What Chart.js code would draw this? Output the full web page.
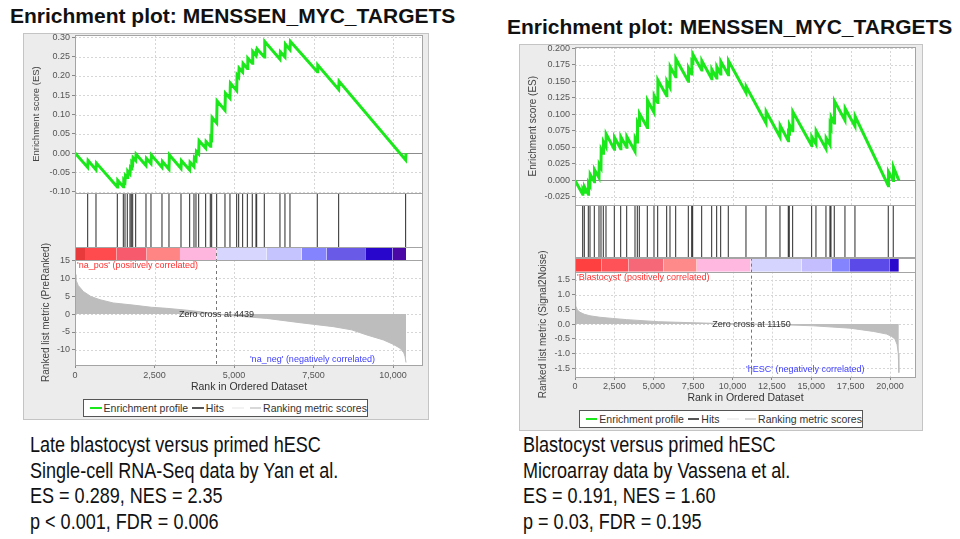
<!DOCTYPE html>
<html>
<head>
<meta charset="utf-8">
<script src="https://cdn.jsdelivr.net/npm/chart.js@4.4.1/dist/chart.umd.min.js"></script>
<style>
  body { margin: 0; background: #fff; width: 960px; height: 539px; position: relative; overflow: hidden;
         font-family: "Liberation Sans", Arial, sans-serif; }
  .title { position: absolute; font-weight: bold; font-size: 21px; color: #111; white-space: nowrap; line-height: 24px; }
  .panel { position: absolute; background: #ececec; border: 1px solid #c4c4c4; box-sizing: border-box; }
  canvas { position: absolute; }
  .legend { position: absolute; background: #fff; border: 1px solid #555; box-sizing: border-box;
            font-size: 10.5px; color: #333; white-space: nowrap; display: flex; align-items: center; padding-left: 2px; }
  .legend .sw { display: inline-block; width: 14px; height: 2px; margin: 0 2px 0 4px; }
  .note { position: absolute; font-size: 22px; line-height: 25.6px; color: #111; white-space: nowrap;
          transform: scaleX(0.82); transform-origin: left top; }
</style>
</head>
<body>
<div class="title" style="left:10px; top:4px;">Enrichment plot: MENSSEN_MYC_TARGETS</div>
<div class="title" style="left:507px; top:15px;">Enrichment plot: MENSSEN_MYC_TARGETS</div>

<div class="panel" style="left:23px; top:33px; width:406px; height:387px;"></div>
<div class="panel" style="left:519px; top:44px; width:404px; height:387px;"></div>

<canvas id="yanPlot" width="406" height="362" style="left:23px; top:33px;"></canvas>
<canvas id="vassenaPlot" width="404" height="363" style="left:519px; top:44px;"></canvas>

<div class="legend" style="left:83px; top:399px; width:285px; height:18px;">
  <span class="sw" style="background:#1ae81a"></span>Enrichment profile
  <span class="sw" style="background:#555"></span>Hits
  <span class="sw" style="background:#f2f2f2; margin-left:8px"></span>
  <span class="sw" style="background:#d8d8d8"></span>Ranking metric scores
</div>
<div class="legend" style="left:579px; top:410px; width:284px; height:18px;">
  <span class="sw" style="background:#1ae81a"></span>Enrichment profile
  <span class="sw" style="background:#555"></span>Hits
  <span class="sw" style="background:#f2f2f2; margin-left:8px"></span>
  <span class="sw" style="background:#d8d8d8"></span>Ranking metric scores
</div>

<div class="note" style="left:30px; top:432px;">
  Late blastocyst versus primed hESC<br>
  Single-cell RNA-Seq data by Yan et al.<br>
  ES = 0.289, NES = 2.35<br>
  p &lt; 0.001, FDR = 0.006
</div>
<div class="note" style="left:523px; top:432px;">
  Blastocyst versus primed hESC<br>
  Microarray data by Vassena et al.<br>
  ES = 0.191, NES = 1.60<br>
  p = 0.03, FDR = 0.195
</div>

<script>
Chart.defaults.font.family = "'Liberation Sans', Arial, sans-serif";
Chart.defaults.color = "#555";

// ---- Yan et al. (left) ----
const yanHits = [398, 660, 1331, 1520, 1572, 1645, 1729, 1771, 1813, 1907, 2232, 2389, 2735, 2955,
  3333, 3605, 3741, 3804, 3888, 4108, 4255, 4297, 4454, 4716, 4873, 5083, 5146, 5271, 5420, 5575,
  5691, 5712, 5953, 6445, 6602, 6760, 7619, 8290, 10396];
const yanES = [[0, 0.000],
  [398, -0.037], [412, -0.019], [660, -0.043], [674, -0.026], [1331, -0.088], [1345, -0.071],
  [1520, -0.087], [1534, -0.070], [1572, -0.074], [1586, -0.058], [1645, -0.063], [1659, -0.047],
  [1729, -0.054], [1743, -0.038], [1771, -0.041], [1785, -0.025], [1813, -0.028], [1827, -0.012],
  [1907, -0.019], [1921, -0.003], [2232, -0.032], [2246, -0.014], [2389, -0.027], [2403, -0.005],
  [2735, -0.037], [2749, -0.022], [2955, -0.042], [2969, -0.005], [3333, -0.040], [3347, -0.020],
  [3605, -0.044], [3619, -0.024], [3741, -0.035], [3755, -0.013], [3804, -0.018], [3818, 0.004],
  [3888, -0.002], [3902, 0.032], [4108, 0.013], [4122, 0.030], [4255, 0.018], [4269, 0.040],
  [4297, 0.037], [4311, 0.092], [4454, 0.078], [4468, 0.135], [4716, 0.111], [4730, 0.155],
  [4873, 0.142], [4887, 0.181], [5083, 0.162], [5097, 0.202], [5146, 0.197], [5160, 0.220],
  [5271, 0.210], [5285, 0.232], [5420, 0.219], [5434, 0.246], [5575, 0.233], [5589, 0.263],
  [5691, 0.253], [5700, 0.262], [5712, 0.261], [5726, 0.270], [5953, 0.249], [5967, 0.289],
  [6445, 0.243], [6459, 0.262], [6602, 0.249], [6616, 0.282], [6760, 0.268], [6774, 0.289],
  [7619, 0.211], [7633, 0.228], [8290, 0.165], [8304, 0.186], [10396, -0.018], [10409, 0.000]];
const yanMetric = [[0, 11.0], [30, 9.5], [100, 8.0], [262, 6.3], [500, 4.9], [786, 4.0], [1200, 3.1],
  [1834, 2.5], [2400, 1.9], [2883, 1.6], [3500, 1.1], [3931, 0.65], [4439, 0], [5000, -0.5],
  [6027, -1.2], [7075, -2.4], [8124, -3.5], [8700, -4.4], [9172, -5.8], [9696, -7.2],
  [10000, -8.4], [10220, -9.5], [10340, -10.8], [10377, -11.8], [10409, -13.5]];
const yanBandEdges = [0, 314, 1310, 2253, 3301, 4454, 6026, 7126, 7912, 9149, 9987, 10409];
const yanBandColors = ["#e8393b", "#ff4a4e", "#f65a6c", "#ff8484", "#ffb6de", "#d6d6ff",
  "#c6c4ff", "#8484ff", "#6a5ae8", "#2806cc", "#4a08a6"];
const yanZeroCross = 4439;
const yanRankTicks = [0, 2500, 5000, 7500, 10000];
const yanEsTicks = [-0.10, -0.05, 0.00, 0.05, 0.10, 0.15, 0.20, 0.25, 0.30];
const yanMetricTicks = [-10, -5, 0, 5, 10, 15];

// ---- Vassena et al. (right) ----
const vasHits = [487, 592, 846, 952, 1227, 1523, 1650, 1798, 1967, 2497, 2899, 3280, 3809, 3957,
  4084, 4592, 5015, 5248, 5819, 6031, 6391, 7195, 7407, 7470, 8041, 8676, 8993, 9247, 9733,
  10855, 12125, 13013, 13542, 13605, 13817, 15023, 15298, 15933, 16187, 16251, 16462, 17139,
  17774, 19890, 20207];
const vasES = [[0, 0.000],
  [487, -0.021], [500, -0.014], [592, -0.018], [605, -0.010], [846, -0.021], [860, -0.004],
  [952, -0.008], [965, 0.009], [1227, -0.002], [1240, 0.016], [1523, 0.004], [1536, 0.024],
  [1650, 0.019], [1663, 0.047], [1798, 0.041], [1811, 0.058], [1967, 0.051], [1980, 0.070],
  [2497, 0.047], [2510, 0.065], [2899, 0.048], [2912, 0.066], [3280, 0.050], [3293, 0.066],
  [3809, 0.044], [3822, 0.064], [3957, 0.058], [3970, 0.088], [4084, 0.083], [4097, 0.101],
  [4592, 0.080], [4605, 0.121], [5015, 0.103], [5028, 0.128], [5248, 0.118], [5261, 0.152],
  [5819, 0.128], [5832, 0.150], [6031, 0.141], [6044, 0.172], [6391, 0.157], [6404, 0.184],
  [7195, 0.150], [7208, 0.170], [7407, 0.161], [7420, 0.179], [7470, 0.177], [7483, 0.191],
  [8041, 0.167], [8054, 0.181], [8676, 0.154], [8689, 0.168], [8993, 0.155], [9006, 0.172],
  [9247, 0.161], [9260, 0.180], [9733, 0.160], [9746, 0.181], [10855, 0.133], [10868, 0.142],
  [12125, 0.087], [12138, 0.104], [13013, 0.066], [13026, 0.083], [13542, 0.060], [13555, 0.072],
  [13605, 0.070], [13618, 0.084], [13817, 0.075], [13830, 0.104], [15023, 0.053], [15036, 0.066],
  [15298, 0.055], [15311, 0.075], [15933, 0.048], [15946, 0.064], [16187, 0.054], [16200, 0.084],
  [16251, 0.081], [16264, 0.096], [16462, 0.087], [16475, 0.120], [17139, 0.091], [17152, 0.109],
  [17774, 0.082], [17787, 0.097], [19890, -0.008], [19903, 0.013], [20207, 0.000], [20220, 0.020],
  [20560, 0.000]];
const vasMetric = [[0, 0.80], [40, 0.62], [150, 0.48], [317, 0.40], [600, 0.33], [952, 0.28],
  [1587, 0.23], [2400, 0.19], [3280, 0.15], [5290, 0.08], [7723, 0.04], [9500, 0.015], [11150, 0],
  [13000, -0.02], [15130, -0.06], [17457, -0.14], [18938, -0.25], [19785, -0.34], [20100, -0.42],
  [20314, -0.51], [20450, -0.70], [20525, -1.00], [20560, -1.65]];
const vasBandEdges = [0, 1693, 3386, 5607, 7723, 11151, 14389, 16293, 17414, 19954, 20560];
const vasBandColors = ["#ff4040", "#ff5258", "#f66878", "#ff8a8a", "#ffb8e0", "#d4d4ff",
  "#c4beff", "#8484ff", "#5c4ae8", "#2a08cc"];
const vasZeroCross = 11150;
const vasRankTicks = [0, 2500, 5000, 7500, 10000, 12500, 15000, 17500, 20000];
const vasEsTicks = [-0.025, 0.000, 0.025, 0.050, 0.075, 0.100, 0.125, 0.150, 0.175, 0.200];
const vasMetricTicks = [-1.5, -1.0, -0.5, 0.0, 0.5, 1.0, 1.5];

// draws panel backgrounds, dotted grids, frames, zero-cross line and the text notes
const gseaDeco = {
  id: "gseaDeco",
  beforeDatasetsDraw(chart, args, opts) {
    const { ctx, chartArea: a, scales } = chart;
    const x = scales.x;
    ctx.save();
    ctx.fillStyle = "#fff";
    ctx.fillRect(a.left, a.top, a.right - a.left, a.bottom - a.top);
    ctx.lineWidth = 1;
    ctx.strokeStyle = "#d6d6d6";
    ctx.setLineDash([2, 2]);
    for (const id of ["es", "metric"]) {
      const s = scales[id];
      s.ticks.forEach(t => {
        if (id === "es" && t.value === 0) return;
        const y = Math.round(s.getPixelForValue(t.value)) + 0.5;
        ctx.beginPath(); ctx.moveTo(a.left, y); ctx.lineTo(a.right, y); ctx.stroke();
      });
      x.ticks.forEach(t => {
        const px = Math.round(x.getPixelForValue(t.value)) + 0.5;
        ctx.beginPath(); ctx.moveTo(px, s.top); ctx.lineTo(px, s.bottom); ctx.stroke();
      });
    }
    ctx.setLineDash([]);
    ctx.strokeStyle = "#8c8c8c";
    const y0 = Math.round(scales.es.getPixelForValue(0)) + 0.5;
    ctx.beginPath(); ctx.moveTo(a.left, y0); ctx.lineTo(a.right, y0); ctx.stroke();
    ctx.restore();
  },
  afterDatasetsDraw(chart, args, opts) {
    const { ctx, chartArea: a, scales } = chart;
    const x = scales.x, m = scales.metric, band = scales.band;
    ctx.save();
    // zero cross
    const zx = Math.round(x.getPixelForValue(opts.zeroCross)) + 0.5;
    ctx.strokeStyle = "#777";
    ctx.lineWidth = 1;
    ctx.setLineDash([3, 3]);
    ctx.beginPath(); ctx.moveTo(zx, band.top); ctx.lineTo(zx, m.bottom); ctx.stroke();
    ctx.setLineDash([]);
    // frames
    ctx.strokeStyle = "#a4a4a4";
    for (const id of ["es", "hits", "band", "metric"]) {
      const s = scales[id];
      ctx.strokeRect(a.left + 0.5, Math.round(s.top) + 0.5, a.right - a.left - 1, Math.round(s.bottom - s.top));
    }
    // notes
    ctx.font = "9px 'Liberation Sans', Arial, sans-serif";
    ctx.textBaseline = "middle";
    ctx.textAlign = "left";
    ctx.fillStyle = "#ff3030";
    ctx.fillText(opts.posLabel, a.left + 2, band.bottom + 6);
    ctx.textAlign = "center";
    ctx.fillStyle = "#333";
    ctx.fillText("Zero cross at " + opts.zeroCross, zx, m.getPixelForValue(0));
    ctx.textAlign = "left";
    ctx.fillStyle = "#4040ff";
    ctx.fillText(opts.negLabel, x.getPixelForValue(opts.negAt[0]), m.getPixelForValue(opts.negAt[1]));
    ctx.restore();
  }
};

function buildPlot(canvasId, cfg) {
  // fixed axis width, and no extra room reserved for half tick labels
  const fit = w => s => { s.width = w; s.paddingTop = 0; s.paddingBottom = 0; };
  const fixTicks = list => s => { s.ticks = list.map(v => ({ value: v })); };
  const tickFont = { size: 9 };
  const datasets = [
    {
      label: "Enrichment profile",
      data: cfg.es.map(p => ({ x: p[0], y: p[1] })),
      yAxisID: "es",
      borderColor: "#1ae81a",
      borderWidth: 3,
      pointRadius: 0,
      tension: 0
    },
    {
      label: "Hits",
      data: cfg.hits.flatMap(h => [{ x: h, y: 0 }, { x: h, y: 1 }, { x: h, y: null }]),
      yAxisID: "hits",
      borderColor: "#3c3c3c",
      borderWidth: 1.1,
      pointRadius: 0,
      spanGaps: false
    },
    {
      label: "Ranking metric scores",
      data: cfg.metric.map(p => ({ x: p[0], y: p[1] })),
      yAxisID: "metric",
      borderColor: "#bdbdbd",
      backgroundColor: "#bdbdbd",
      borderWidth: 1,
      pointRadius: 0,
      fill: "origin"
    }
  ];
  cfg.bandColors.forEach((c, i) => {
    datasets.push({
      label: "band" + i,
      data: [{ x: cfg.bandEdges[i], y: 1 }, { x: cfg.bandEdges[i + 1], y: 1 }],
      yAxisID: "band",
      borderWidth: 0,
      borderColor: c,
      backgroundColor: c,
      pointRadius: 0,
      fill: "origin"
    });
  });

  return new Chart(document.getElementById(canvasId), {
    type: "line",
    data: { datasets },
    plugins: [gseaDeco],
    options: {
      responsive: false,
      animation: false,
      layout: { padding: cfg.padding },
      plugins: {
        legend: { display: false },
        tooltip: { enabled: false },
        gseaDeco: {
          zeroCross: cfg.zeroCross,
          posLabel: cfg.posLabel,
          negLabel: cfg.negLabel,
          negAt: cfg.negAt
        }
      },
      scales: {
        x: {
          type: "linear", min: 0, max: cfg.xMax,
          afterBuildTicks: fixTicks(cfg.rankTicks),
          ticks: { font: tickFont, color: "#555", padding: cfg.xTickPad, maxRotation: 0, autoSkip: false,
                   callback: v => v.toLocaleString("en-US") },
          grid: { drawOnChartArea: false, drawTicks: true, tickLength: 3, color: "#888" },
          border: { display: false },
          title: { display: true, text: "Rank in Ordered Dataset", font: { size: 10.5 }, color: "#333",
                   padding: { top: 0, bottom: cfg.xTitlePad } },
          afterFit: s => { s.height = 30; s.paddingLeft = 0; s.paddingRight = 0; }
        },
        es: {
          type: "linear", position: "left", stack: "gsea", stackWeight: 158, weight: 4,
          min: cfg.esMin, max: cfg.esMax,
          afterBuildTicks: fixTicks(cfg.esTicks),
          ticks: { font: tickFont, color: "#555", padding: 2, autoSkip: false,
                   callback: v => v.toFixed(cfg.esDigits) },
          grid: { drawOnChartArea: false, drawTicks: true, tickLength: 3, color: "#888" },
          border: { display: false },
          title: { display: true, text: "Enrichment score (ES)", font: { size: cfg.esTitleSize }, color: "#444",
                   padding: { top: cfg.esTitlePad, bottom: 0 } },
          afterFit: fit(cfg.axisWidth)
        },
        hits: {
          type: "linear", position: "left", stack: "gsea", stackWeight: cfg.hitsWeight, weight: 3,
          min: 0, max: 1,
          ticks: { display: false },
          grid: { display: false },
          border: { display: false },
          afterFit: fit(cfg.axisWidth)
        },
        band: {
          type: "linear", position: "left", stack: "gsea", stackWeight: cfg.bandWeight, weight: 2,
          min: 0, max: 1,
          ticks: { display: false },
          grid: { display: false },
          border: { display: false },
          afterFit: fit(cfg.axisWidth)
        },
        metric: {
          type: "linear", position: "left", stack: "gsea", stackWeight: 105, weight: 1,
          min: cfg.metricMin, max: cfg.metricMax,
          afterBuildTicks: fixTicks(cfg.metricTicks),
          ticks: { font: tickFont, color: "#555", padding: 2, autoSkip: false,
                   callback: cfg.metricFormat },
          grid: { drawOnChartArea: false, drawTicks: true, tickLength: 3, color: "#888" },
          border: { display: false },
          title: { display: true, text: cfg.metricTitle, font: { size: 10 }, color: "#444",
                   padding: { top: cfg.metricTitlePad, bottom: 0 } },
          afterFit: fit(cfg.axisWidth)
        }
      }
    }
  });
}

buildPlot("yanPlot", {
  es: yanES, hits: yanHits, metric: yanMetric,
  bandEdges: yanBandEdges, bandColors: yanBandColors, zeroCross: yanZeroCross,
  rankTicks: yanRankTicks, esTicks: yanEsTicks, metricTicks: yanMetricTicks,
  posLabel: "'na_pos' (positively correlated)",
  negLabel: "'na_neg' (negatively correlated)",
  negAt: [5500, -12.6],
  xMax: 10943,
  padding: { left: 0, right: 6, top: 2, bottom: 0 },
  axisWidth: 52, xTickPad: 2, xTitlePad: 2,
  esMin: -0.1034, esMax: 0.306, esDigits: 2, esTitleSize: 9.5, esTitlePad: 8,
  hitsWeight: 54, bandWeight: 13,
  metricMin: -14.2, metricMax: 15.08, metricFormat: v => String(v),
  metricTitle: "Ranked list metric (PreRanked)", metricTitlePad: 17
});

buildPlot("vassenaPlot", {
  es: vasES, hits: vasHits, metric: vasMetric,
  bandEdges: vasBandEdges, bandColors: vasBandColors, zeroCross: vasZeroCross,
  rankTicks: vasRankTicks, esTicks: vasEsTicks, metricTicks: vasMetricTicks,
  posLabel: "'Blastocyst' (positively correlated)",
  negLabel: "'hESC' (negatively correlated)",
  negAt: [10857, -1.56],
  xMax: 21650,
  padding: { left: 0, right: 7, top: 3, bottom: 0 },
  axisWidth: 56, xTickPad: 1, xTitlePad: 3,
  esMin: -0.038, esMax: 0.202, esDigits: 3, esTitleSize: 10, esTitlePad: 8,
  hitsWeight: 52, bandWeight: 14,
  metricMin: -1.8, metricMax: 1.78, metricFormat: v => v.toFixed(1),
  metricTitle: "Ranked list metric (Signal2Noise)", metricTitlePad: 18
});
</script>
</body>
</html>
